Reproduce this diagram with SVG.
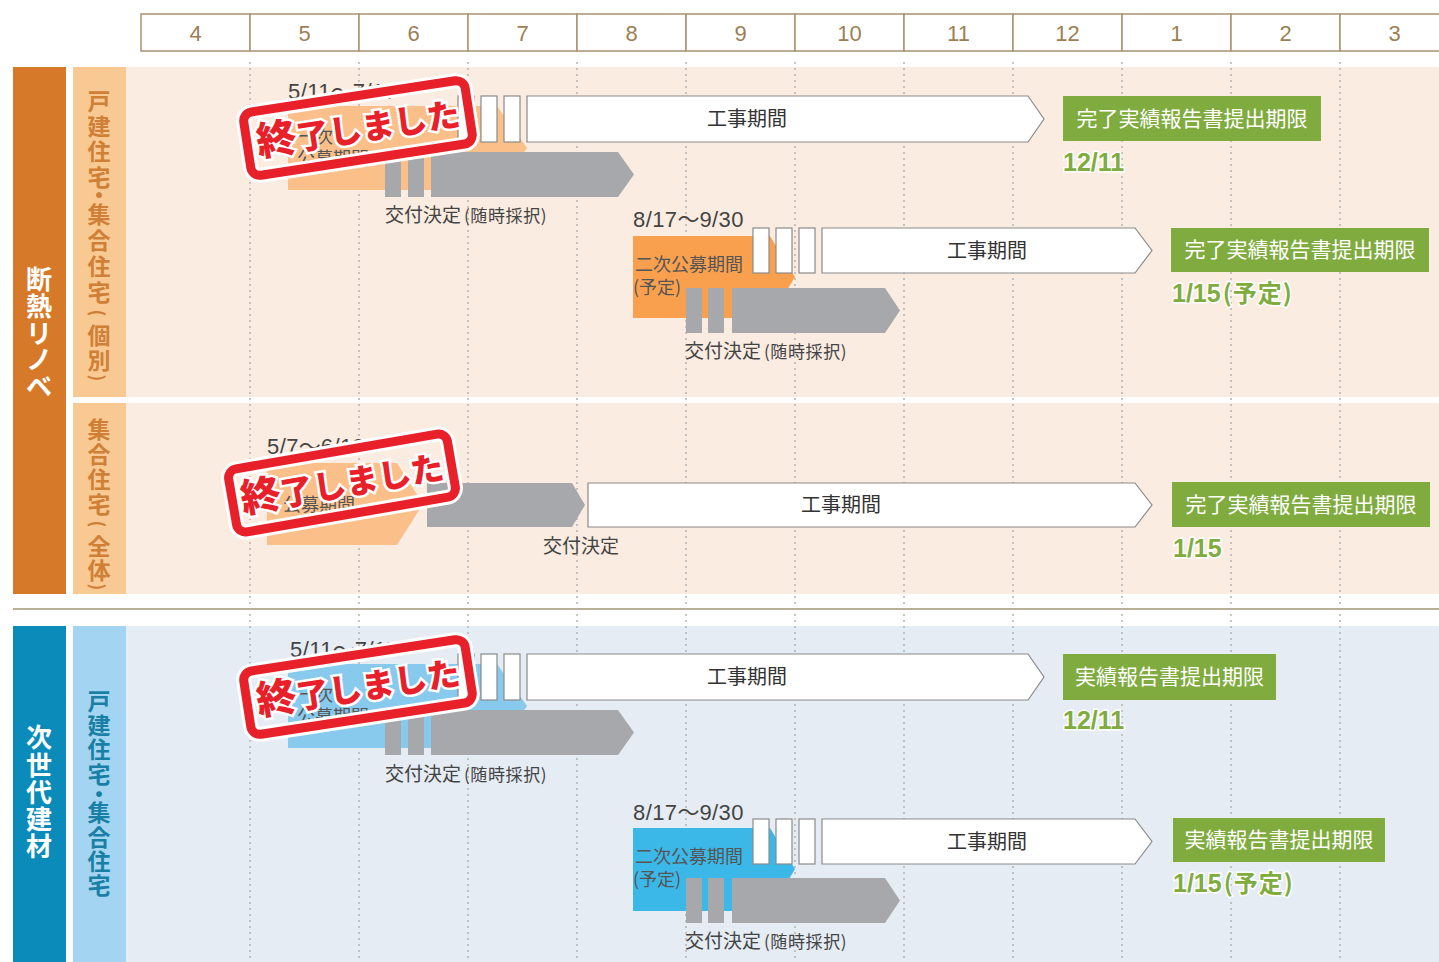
<svg xmlns="http://www.w3.org/2000/svg" width="1439" height="962" viewBox="0 0 1439 962">
<defs>
<style>
text{font-family:"Noto Sans CJK JP","Noto Sans",sans-serif;}
.num{font-family:"Liberation Sans","Noto Sans",sans-serif;font-size:22px;fill:#9c7f55;text-anchor:middle;}
.hd{fill:#fff;stroke:#a99270;stroke-width:1.5;}
.dot{stroke:#b3b3b3;stroke-width:1.5;stroke-dasharray:2 4;}
.wb{fill:#fff;stroke:#8a8a8a;stroke-width:1.2;}
.gb{fill:#a7a8ab;}
.lbl{font-size:20px;fill:#333;}
.date{font-family:"Liberation Sans","Noto Sans",sans-serif;font-size:22px;letter-spacing:0.4px;fill:#444;}
.tl{font-family:"Noto Sans CJK JP",sans-serif;letter-spacing:0;}
.sm{font-size:18px;fill:#555;}
.kd{font-size:19px;fill:#444;}
.kd2{font-size:17px;fill:#444;letter-spacing:0.6px;}
.grn{fill:#80ab3f;}
.gt{font-size:21px;fill:#fff;}
.gd{font-family:"Liberation Sans","Noto Sans CJK JP",sans-serif;font-size:25px;font-weight:bold;fill:#80ab3f;stroke:#fff;stroke-width:3;paint-order:stroke;}
.gdj{font-family:"Noto Sans CJK JP",sans-serif;font-size:24px;letter-spacing:1px;}
.v1{font-size:26px;font-weight:bold;fill:#fff;text-anchor:middle;dominant-baseline:central;}
.v2{font-size:23px;font-weight:bold;fill:#cf7f36;text-anchor:middle;dominant-baseline:central;}
.v3{font-size:23px;font-weight:bold;fill:#1a7fa5;text-anchor:middle;dominant-baseline:central;}
.pr{font-size:18px;font-weight:bold;fill:#cf7f36;text-anchor:middle;dominant-baseline:central;}
.stampo{fill:none;stroke:#fff;stroke-width:15;}
.stampr{fill:none;stroke:#e8202a;stroke-width:9;}
.stt{font-weight:900;fill:#e8202a;stroke:#fff;stroke-width:5;paint-order:stroke;text-anchor:middle;}
</style>
</defs>

<g id="backgrounds">
<rect x="126" y="67" width="1313" height="330" fill="#faece1"/>
<rect x="126" y="403" width="1313" height="191" fill="#faece1"/>
<rect x="126" y="626" width="1313" height="336" fill="#e5ecf4"/>
<line x1="13" y1="609" x2="1439" y2="609" stroke="#a39471" stroke-width="1.5"/>
</g>

<g id="header">
<rect class="hd" x="141" y="14" width="109" height="37"/>
<rect class="hd" x="250" y="14" width="109" height="37"/>
<rect class="hd" x="359" y="14" width="109" height="37"/>
<rect class="hd" x="468" y="14" width="109" height="37"/>
<rect class="hd" x="577" y="14" width="109" height="37"/>
<rect class="hd" x="686" y="14" width="109" height="37"/>
<rect class="hd" x="795" y="14" width="109" height="37"/>
<rect class="hd" x="904" y="14" width="109" height="37"/>
<rect class="hd" x="1013" y="14" width="109" height="37"/>
<rect class="hd" x="1122" y="14" width="109" height="37"/>
<rect class="hd" x="1231" y="14" width="109" height="37"/>
<rect class="hd" x="1340" y="14" width="109" height="37"/>
<text class="num" x="195.5" y="41">4</text>
<text class="num" x="304.5" y="41">5</text>
<text class="num" x="413.5" y="41">6</text>
<text class="num" x="522.5" y="41">7</text>
<text class="num" x="631.5" y="41">8</text>
<text class="num" x="740.5" y="41">9</text>
<text class="num" x="849.5" y="41">10</text>
<text class="num" x="958.5" y="41">11</text>
<text class="num" x="1067.5" y="41">12</text>
<text class="num" x="1176.5" y="41">1</text>
<text class="num" x="1285.5" y="41">2</text>
<text class="num" x="1394.5" y="41">3</text>
</g>

<g id="gridlines">
<line class="dot" x1="250" y1="62" x2="250" y2="962"/>
<line class="dot" x1="359" y1="62" x2="359" y2="962"/>
<line class="dot" x1="468" y1="62" x2="468" y2="962"/>
<line class="dot" x1="577" y1="62" x2="577" y2="962"/>
<line class="dot" x1="686" y1="62" x2="686" y2="962"/>
<line class="dot" x1="795" y1="62" x2="795" y2="962"/>
<line class="dot" x1="904" y1="62" x2="904" y2="962"/>
<line class="dot" x1="1013" y1="62" x2="1013" y2="962"/>
<line class="dot" x1="1122" y1="62" x2="1122" y2="962"/>
<line class="dot" x1="1231" y1="62" x2="1231" y2="962"/>
<line class="dot" x1="1340" y1="62" x2="1340" y2="962"/>
</g>

<g id="label-dannetsu">
<rect x="13" y="67" width="53" height="527" fill="#d67a2a"/>
<text class="v1" x="39 39 39 39 39" y="277 304 331 357 384">断熱リノベ</text>
</g>
<g id="label-kobetsu">
<rect x="73" y="67" width="53" height="330" fill="#f9c993"/>
<text class="v2" x="99 99 99 99 99 99 99 99 99 99 99" y="100 125 150 176 194 213 239 265 291 334 359">戸建住宅・集合住宅個別</text>
<text class="pr" transform="translate(99,313) rotate(90)">(</text>
<text class="pr" transform="translate(99,378) rotate(90)">)</text>
</g>
<g id="label-zentai">
<rect x="73" y="403" width="53" height="191" fill="#f9c993"/>
<text class="v2" x="99 99 99 99 99 99" y="428 453 478 503 545 569">集合住宅全体</text>
<text class="pr" transform="translate(99,524) rotate(90)">(</text>
<text class="pr" transform="translate(99,587) rotate(90)">)</text>
</g>
<g id="label-jisedai">
<rect x="13" y="626" width="53" height="336" fill="#0a8bba"/>
<text class="v1" x="39 39 39 39 39" y="735 763 790 817 844">次世代建材</text>
</g>
<g id="label-jisedai-sub">
<rect x="73" y="626" width="53" height="336" fill="#a3d5f2"/>
<text class="v3" x="99 99 99 99 99 99 99 99 99" y="700 724 748 773 793 811 836 860 884">戸建住宅・集合住宅</text>
</g>

<g id="row1">
<text class="date" x="288" y="99">5/11<tspan class="tl">～</tspan>7/17</text>
<polygon points="288,106 497,106 527,148 497,190 288,190" fill="#fbc08a"/>
<text class="sm" x="297" y="143">一次</text>
<text class="sm" x="297" y="165">公募期間</text>
<rect class="wb" x="458" y="96" width="16" height="46"/>
<rect class="wb" x="481" y="96" width="16" height="46"/>
<rect class="wb" x="504" y="96" width="16" height="46"/>
<polygon class="wb" points="527,96 1028,96 1044,119 1028,142 527,142"/>
<text class="lbl" x="747" y="126" text-anchor="middle">工事期間</text>
<rect class="gb" x="385" y="152" width="16" height="45"/>
<rect class="gb" x="408" y="152" width="16" height="45"/>
<polygon class="gb" points="431,152 618,152 634,174.5 618,197 431,197"/>
<text x="385" y="222"><tspan class="kd">交付決定</tspan><tspan class="kd2" dx="3">(随時採択)</tspan></text>
<rect class="grn" x="1063" y="96" width="258" height="45"/>
<text class="gt" x="1192" y="126" text-anchor="middle">完了実績報告書提出期限</text>
<text class="gd" x="1063" y="171">12/11</text>
</g>

<g id="row2">
<text class="date" x="633" y="227">8/17<tspan class="tl">～</tspan>9/30</text>
<polygon points="633,236 770,236 795,277 770,318 633,318" fill="#f9a04e"/>
<text class="sm" x="635" y="271">二次公募期間</text>
<text class="sm" x="633" y="294">(予定)</text>
<rect class="wb" x="753" y="228" width="16" height="45"/>
<rect class="wb" x="776" y="228" width="16" height="45"/>
<rect class="wb" x="799" y="228" width="16" height="45"/>
<polygon class="wb" points="822,228 1135,228 1152,250.5 1135,273 822,273"/>
<text class="lbl" x="987" y="258" text-anchor="middle">工事期間</text>
<rect class="gb" x="686" y="288" width="16" height="45"/>
<rect class="gb" x="708" y="288" width="16" height="45"/>
<polygon class="gb" points="732,288 885,288 900,310.5 885,333 732,333"/>
<text x="685" y="358"><tspan class="kd">交付決定</tspan><tspan class="kd2" dx="3">(随時採択)</tspan></text>
<rect class="grn" x="1171" y="228" width="258" height="44"/>
<text class="gt" x="1300" y="257" text-anchor="middle">完了実績報告書提出期限</text>
<text class="gd" x="1172" y="302">1/15<tspan class="gdj" dx="2">(予定)</tspan></text>
</g>

<g id="row3">
<text class="date" x="267" y="454">5/7<tspan class="tl">～</tspan>6/19</text>
<polygon points="267,463 397,463 423,504 397,545 267,545" fill="#fbc08a"/>
<text class="sm" x="283" y="511">公募期間</text>
<polygon class="gb" points="427,483 572,483 585,505 572,527 427,527"/>
<polygon class="wb" points="588,483 1135,483 1152,505 1135,527 588,527"/>
<text class="lbl" x="841" y="512" text-anchor="middle">工事期間</text>
<text class="kd" x="543" y="553">交付決定</text>
<rect class="grn" x="1172" y="482" width="258" height="45"/>
<text class="gt" x="1301" y="512" text-anchor="middle">完了実績報告書提出期限</text>
<text class="gd" x="1173" y="557">1/15</text>
</g>

<g id="row4">
<text class="date" x="290" y="657">5/11<tspan class="tl">～</tspan>7/17</text>
<polygon points="288,664 497,664 527,706 497,748 288,748" fill="#88c9ee"/>
<text class="sm" x="297" y="701">一次</text>
<text class="sm" x="297" y="723">公募期間</text>
<rect class="wb" x="458" y="654" width="16" height="46"/>
<rect class="wb" x="481" y="654" width="16" height="46"/>
<rect class="wb" x="504" y="654" width="16" height="46"/>
<polygon class="wb" points="527,654 1028,654 1044,677 1028,700 527,700"/>
<text class="lbl" x="747" y="684" text-anchor="middle">工事期間</text>
<rect class="gb" x="385" y="710" width="16" height="45"/>
<rect class="gb" x="408" y="710" width="16" height="45"/>
<polygon class="gb" points="431,710 618,710 634,732.5 618,755 431,755"/>
<text x="385" y="781"><tspan class="kd">交付決定</tspan><tspan class="kd2" dx="3">(随時採択)</tspan></text>
<rect class="grn" x="1063" y="654" width="213" height="46"/>
<text class="gt" x="1169.5" y="684" text-anchor="middle">実績報告書提出期限</text>
<text class="gd" x="1063" y="729">12/11</text>
</g>

<g id="row5">
<text class="date" x="633" y="820">8/17<tspan class="tl">～</tspan>9/30</text>
<polygon points="633,828 770,828 795,869 770,911 633,911" fill="#3bb8e8"/>
<text class="sm" x="635" y="863">二次公募期間</text>
<text class="sm" x="633" y="886">(予定)</text>
<rect class="wb" x="753" y="819" width="16" height="45"/>
<rect class="wb" x="776" y="819" width="16" height="45"/>
<rect class="wb" x="799" y="819" width="16" height="45"/>
<polygon class="wb" points="822,819 1135,819 1152,841.5 1135,864 822,864"/>
<text class="lbl" x="987" y="849" text-anchor="middle">工事期間</text>
<rect class="gb" x="686" y="878" width="16" height="45"/>
<rect class="gb" x="708" y="878" width="16" height="45"/>
<polygon class="gb" points="732,878 885,878 900,900.5 885,923 732,923"/>
<text x="685" y="948"><tspan class="kd">交付決定</tspan><tspan class="kd2" dx="3">(随時採択)</tspan></text>
<rect class="grn" x="1173" y="818" width="212" height="44"/>
<text class="gt" x="1279" y="847" text-anchor="middle">実績報告書提出期限</text>
<text class="gd" x="1173" y="892">1/15<tspan class="gdj" dx="2">(予定)</tspan></text>
</g>

<g id="stamp1" transform="translate(358,128) rotate(-8.7)">
<rect class="stampo" x="-112" y="-32" width="224" height="64" rx="9"/>
<rect class="stampr" x="-112" y="-32" width="224" height="64" rx="9"/>
<text class="stt" x="0" y="13"><tspan font-size="40">終</tspan><tspan font-size="33">了しました</tspan></text>
</g>
<g id="stamp2" transform="translate(342,483) rotate(-9.8)">
<rect class="stampo" x="-111" y="-32" width="222" height="64" rx="9"/>
<rect class="stampr" x="-111" y="-32" width="222" height="64" rx="9"/>
<text class="stt" x="0" y="13"><tspan font-size="40">終</tspan><tspan font-size="33">了しました</tspan></text>
</g>
<g id="stamp3" transform="translate(358,687) rotate(-8.7)">
<rect class="stampo" x="-112" y="-32" width="224" height="64" rx="9"/>
<rect class="stampr" x="-112" y="-32" width="224" height="64" rx="9"/>
<text class="stt" x="0" y="13"><tspan font-size="40">終</tspan><tspan font-size="33">了しました</tspan></text>
</g>
</svg>
